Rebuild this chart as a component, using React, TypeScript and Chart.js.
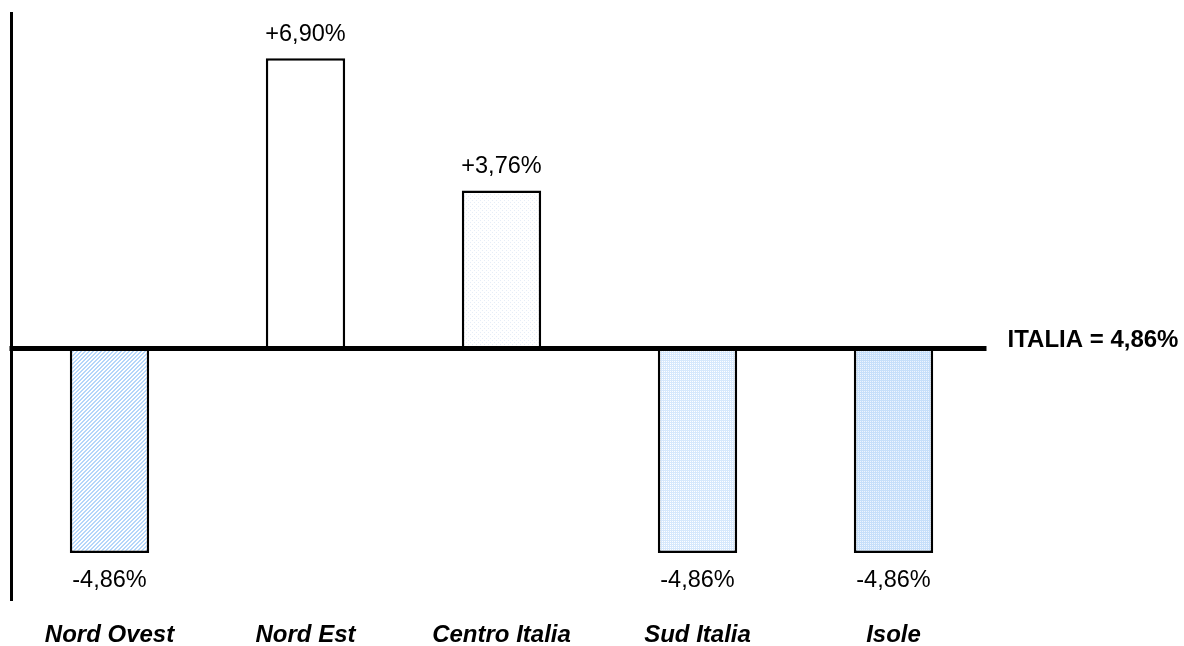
import React, { useEffect, useRef } from "react";
import { Chart, registerables } from "chart.js";

Chart.register(...registerables);

// Regional deviation from the national figure
const categories = ["Nord Ovest", "Nord Est", "Centro Italia", "Sud Italia", "Isole"];
const deviations = [-4.86, 6.9, 3.76, -4.86, -4.86];
const valueLabels = ["-4,86%", "+6,90%", "+3,76%", "-4,86%", "-4,86%"];
const referenceLabel = "ITALIA = 4,86%";
const yRange = [-6, 8];

const FONT = "'Liberation Sans', Arial, sans-serif";

type Tile = { size: number; bg: string; fg: string; on: (x: number, y: number) => boolean };

function makePattern(ctx: CanvasRenderingContext2D, t: Tile): CanvasPattern | string {
  const c = document.createElement("canvas");
  c.width = t.size;
  c.height = t.size;
  const g = c.getContext("2d");
  if (!g) return t.bg;
  g.fillStyle = t.bg;
  g.fillRect(0, 0, t.size, t.size);
  g.fillStyle = t.fg;
  for (let y = 0; y < t.size; y++) {
    for (let x = 0; x < t.size; x++) {
      if (t.on(x, y)) g.fillRect(x, y, 1, 1);
    }
  }
  return ctx.createPattern(c, "repeat") || t.bg;
}

const tiles: Tile[] = [
  // diagonal hatch "/"
  { size: 4, bg: "#ffffff", fg: "#b4d6fa", on: (x, y) => (x + y) % 4 === 3 || (x + y) % 4 === 0 },
  // plain white
  { size: 2, bg: "#ffffff", fg: "#ffffff", on: () => false },
  // faint dots
  { size: 4, bg: "#ffffff", fg: "#e6edf7", on: (x, y) => (x === 0 && y === 0) || (x === 2 && y === 2) },
  // light dotted
  { size: 2, bg: "#ffffff", fg: "#d6e8fc", on: (x, y) => !(x === 0 && y === 1) },
  // denser dotted
  { size: 2, bg: "#eef5fe", fg: "#c6dffa", on: (x, y) => !(x === 0 && y === 1) },
];

const overlay = {
  id: "overlay",
  afterDatasetsDraw(chart: any) {
    const { ctx, chartArea, scales } = chart;
    const x = scales.x;
    const y = scales.y;
    const zeroY = y.getPixelForValue(0);
    ctx.save();

    // vertical axis
    ctx.strokeStyle = "#000";
    ctx.lineWidth = 3;
    ctx.beginPath();
    ctx.moveTo(chartArea.left, chartArea.top);
    ctx.lineTo(chartArea.left, chartArea.bottom);
    ctx.stroke();

    // national reference line
    ctx.lineWidth = 5;
    ctx.beginPath();
    ctx.moveTo(chartArea.left - 2, zeroY);
    ctx.lineTo(chartArea.right - 5, zeroY);
    ctx.stroke();

    ctx.fillStyle = "#000";
    ctx.textBaseline = "middle";
    ctx.textAlign = "left";
    ctx.font = `bold 24px ${FONT}`;
    ctx.fillText(referenceLabel, chartArea.right + 16, zeroY - 8);

    // value labels
    ctx.textAlign = "center";
    ctx.font = `23.5px ${FONT}`;
    deviations.forEach((v, i) => {
      const px = x.getPixelForValue(i);
      const py = y.getPixelForValue(v);
      ctx.fillText(valueLabels[i], px, v >= 0 ? py - 24 : py + 27);
    });

    // category labels
    ctx.font = `italic bold 24px ${FONT}`;
    categories.forEach((c, i) => {
      ctx.fillText(c, x.getPixelForValue(i), chartArea.bottom + 34);
    });
    ctx.restore();
  },
};

export default function App() {
  const ref = useRef<HTMLCanvasElement | null>(null);

  useEffect(() => {
    const canvas = ref.current;
    if (!canvas) return;
    const ctx = canvas.getContext("2d");
    if (!ctx) return;
    const fills = tiles.map((t) => makePattern(ctx, t));

    const chart = new Chart(canvas, {
      type: "bar",
      data: {
        labels: categories,
        datasets: [
          {
            data: deviations,
            backgroundColor: fills as any,
            borderColor: "#000",
            borderWidth: 2.5,
            barPercentage: 0.405,
            categoryPercentage: 1,
          },
        ],
      },
      options: {
        responsive: false,
        animation: false,
        layout: { padding: { left: 11.5, right: 192.5, top: 12, bottom: 45 } },
        plugins: { legend: { display: false }, tooltip: { enabled: false } },
        scales: {
          x: { display: false },
          y: { display: false, min: yRange[0], max: yRange[1] },
        },
      },
      plugins: [overlay],
    });
    return () => chart.destroy();
  }, []);

  return (
    <div style={{ position: "absolute", left: 0, top: 0, width: 1184, height: 646, background: "#fff" }}>
      <canvas ref={ref} width={1184} height={646} style={{ display: "block" }} />
    </div>
  );
}
